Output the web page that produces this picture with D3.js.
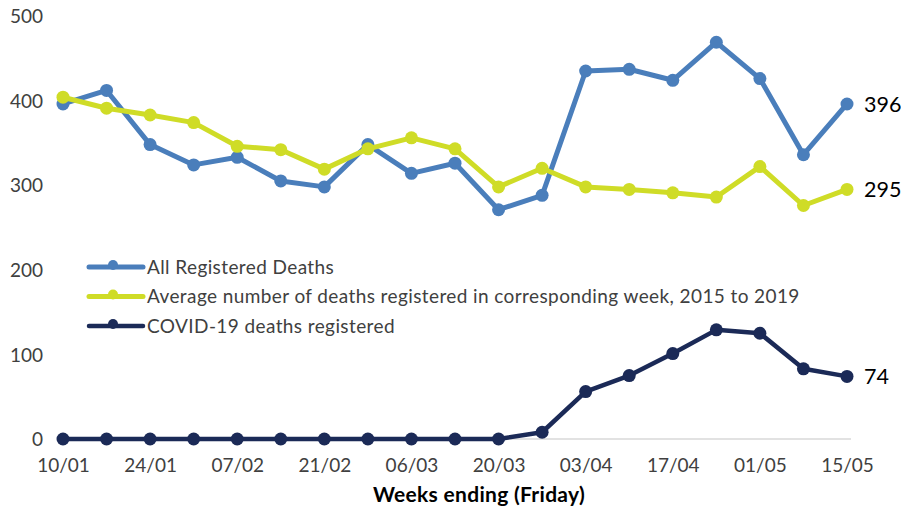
<!DOCTYPE html>
<html>
<head>
<meta charset="utf-8">
<script src="https://cdn.jsdelivr.net/npm/d3@7"></script>
<style>
body { margin: 0; background: #fff; }
svg text { font-family: Lato, "Open Sans", sans-serif; }
</style>
</head>
<body>
<div id="viz"></div>
<script>
// weeks ending (Friday), 2020
var weeks = ["10/01","17/01","24/01","31/01","07/02","14/02","21/02","28/02","06/03","13/03",
             "20/03","27/03","03/04","10/04","17/04","24/04","01/05","08/05","15/05"];
var tickWeeks = ["10/01","24/01","07/02","21/02","06/03","20/03","03/04","17/04","01/05","15/05"];
var yTicks = [0, 100, 200, 300, 400, 500];

var allDeaths = [396, 412, 348, 324, 333, 305, 298, 348, 314, 326, 271, 288, 435, 437, 424, 469, 426, 336, 396];
var avgDeaths = [404, 391, 383, 374, 346, 342, 319, 343, 356, 343, 298, 320, 298, 295, 291, 286, 322, 276, 295];
var covidDeaths = [0, 0, 0, 0, 0, 0, 0, 0, 0, 0, 0, 8, 56, 75, 101, 129, 125, 83, 74];

var seriesNames = ["All Registered Deaths",
  "Average number of deaths registered in corresponding week, 2015 to 2019",
  "COVID-19 deaths registered"];
var colors = ["#4a7ebb", "#cfdc27", "#1b2a57"];

var width = 901, height = 508;
var svg = d3.select("#viz").append("svg").attr("width", width).attr("height", height);

var x = d3.scalePoint().domain(weeks).range([63, 847]);
var y = d3.scaleLinear().domain([0, 500]).range([439, 16]);

// y axis labels (no line)
var yAxis = svg.append("g").attr("transform", "translate(43,0)")
  .call(d3.axisLeft(y).tickValues(yTicks).tickSize(0).tickPadding(0));
yAxis.select(".domain").remove();
yAxis.selectAll("text").attr("font-size", 19).attr("fill", "#404040").attr("dy", "0.35em");

// x axis
var xAxis = svg.append("g").attr("transform", "translate(0," + y(0) + ")")
  .call(d3.axisBottom(x).tickValues(tickWeeks).tickSize(0).tickPadding(20));
xAxis.select(".domain").remove();
xAxis.selectAll("text").attr("font-size", 19).attr("fill", "#404040");
svg.append("line")
  .attr("x1", x(weeks[0]) - 4).attr("x2", x(weeks[weeks.length - 1]) + 4)
  .attr("y1", y(0)).attr("y2", y(0))
  .attr("stroke", "#d9d9d9").attr("stroke-width", 1.3);

svg.append("text").attr("x", 479).attr("y", 502).attr("text-anchor", "middle")
  .attr("font-size", 21).attr("font-weight", "bold").attr("fill", "#000")
  .attr("letter-spacing", 0.3)
  .text("Weeks ending (Friday)");

var data = [allDeaths, avgDeaths, covidDeaths];
var widths = [5, 5, 4.5];
var line = d3.line().x(function(d, i) { return x(weeks[i]); }).y(function(d) { return y(d); });

data.forEach(function(vals, s) {
  var g = svg.append("g");
  g.append("path").datum(vals).attr("d", line)
    .attr("fill", "none").attr("stroke", colors[s]).attr("stroke-width", widths[s])
    .attr("stroke-linejoin", "round");
  g.selectAll("circle").data(vals).enter().append("circle")
    .attr("cx", function(d, i) { return x(weeks[i]); })
    .attr("cy", function(d) { return y(d); })
    .attr("r", 6.5).attr("fill", colors[s]);
  // end label
  var last = vals[vals.length - 1];
  g.append("text").attr("x", x(weeks[weeks.length - 1]) + 17).attr("y", y(last))
    .attr("dy", "0.35em").attr("font-size", 21.5).attr("fill", "#000").text(last);
});

// legend
var legend = svg.append("g");
seriesNames.forEach(function(name, s) {
  var ly = 267 + s * 29.5;
  legend.append("line").attr("x1", 89).attr("x2", 143).attr("y1", ly).attr("y2", ly)
    .attr("stroke", colors[s]).attr("stroke-width", widths[s]).attr("stroke-linecap", "round");
  legend.append("circle").attr("cx", 113).attr("cy", ly - 2).attr("r", 5).attr("fill", colors[s]);
  legend.append("text").attr("x", 147).attr("y", ly).attr("dy", "0.35em")
    .attr("font-size", 19).attr("letter-spacing", 0.4).attr("fill", "#404040").text(name);
});
</script>
</body>
</html>
